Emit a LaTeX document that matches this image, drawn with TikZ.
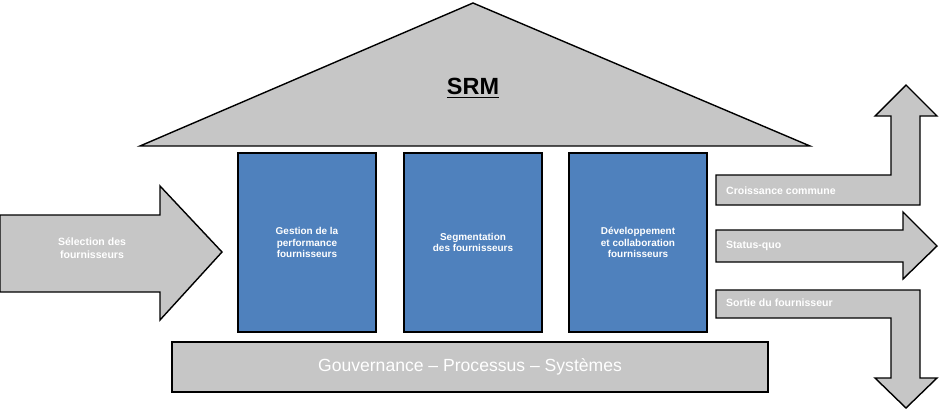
\documentclass[tikz,border=0pt]{standalone}
\usepackage{fontspec}
\setmainfont{Liberation Sans}
\begin{document}
\begin{tikzpicture}[x=0.03cm,y=-0.03cm,
  gshape/.style={fill=gray!45,draw=black,line width=1.2pt,line join=miter},
  pillar/.style={fill=blue!35!black!0,fill={rgb,255:red,79;green,129;blue,189},draw=black,line width=1.2pt},
  wtxt/.style={text=white,font=\bfseries\fontsize{9}{11}\selectfont,align=center},
  btxt/.style={text=white,font=\bfseries\fontsize{8.5}{10}\selectfont,align=center}]
\useasboundingbox (0,0) rectangle (940,412);
% roof
\draw[gshape] (473,3) -- (810,146) -- (140,146) -- cycle;
\node (srm) at (473,88) {\bfseries\fontsize{20}{24}\selectfont\underline{SRM}};
% pillars
\node[pillar,minimum width=138*0.03cm,minimum height=179*0.03cm,btxt] (p1) at (307,242.5) {Gestion de la\\performance\\fournisseurs};
\node[pillar,minimum width=138*0.03cm,minimum height=179*0.03cm,btxt] (p2) at (473,242.5) {Segmentation\\des fournisseurs};
\node[pillar,minimum width=138*0.03cm,minimum height=179*0.03cm,btxt] (p3) at (638,242.5) {Développement\\et collaboration\\fournisseurs};
% base
\node[gshape,minimum width=596*0.03cm,minimum height=50*0.03cm,text=white,font=\fontsize{15}{18}\selectfont] (base) at (470,367) {Gouvernance – Processus – Systèmes};
% left arrow
\draw[gshape] (0,215) -- (160,215) -- (160,186) -- (222,252) -- (160,320) -- (160,292) -- (0,292) -- cycle;
\node[wtxt] (sel) at (92,248) {Sélection des\\fournisseurs};
% top right arrow
\draw[gshape] (716,175) -- (891,175) -- (891,116) -- (875,116) -- (906,85) -- (937,116) -- (920,116) -- (920,205) -- (716,205) -- cycle;
\node[wtxt,anchor=west] (cc) at (722,191) {Croissance commune};
% middle arrow
\draw[gshape] (716,230) -- (903,230) -- (903,212) -- (937,246) -- (903,279) -- (903,262) -- (716,262) -- cycle;
\node[wtxt,anchor=west] (sq) at (722,246) {Status-quo};
% bottom arrow
\draw[gshape] (716,290) -- (920,290) -- (920,378) -- (937,378) -- (906,408) -- (875,378) -- (891,378) -- (891,318) -- (716,318) -- cycle;
\node[wtxt,anchor=west] (sf) at (722,303) {Sortie du fournisseur};
\end{tikzpicture}
\end{document}
